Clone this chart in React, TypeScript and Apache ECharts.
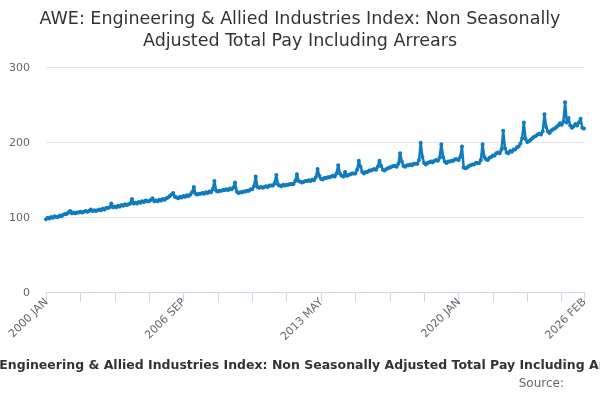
import React, { useEffect, useRef } from "react";
import * as echarts from "echarts";

const TITLE = "AWE: Engineering & Allied Industries Index: Non Seasonally\nAdjusted Total Pay Including Arrears";
const SERIES_NAME = "AWE: Engineering & Allied Industries Index: Non Seasonally Adjusted Total Pay Including Arrears";
const SOURCE = "Source:";

const MONTHS = ["JAN", "FEB", "MAR", "APR", "MAY", "JUN", "JUL", "AUG", "SEP", "OCT", "NOV", "DEC"];
const FIRST_YEAR = 2000;

const v2000 = [97, 99, 98, 100, 99, 101, 100, 100, 102, 101, 103, 104];
const v2001 = [104, 106, 108, 105, 106, 105, 106, 106, 107, 106, 107, 108];
const v2002 = [107, 108, 110, 108, 109, 108, 109, 110, 109, 111, 110, 112];
const v2003 = [112, 113, 118, 113, 114, 113, 115, 114, 116, 115, 117, 116];
const v2004 = [117, 118, 124, 118, 119, 118, 120, 119, 121, 120, 122, 121];
const v2005 = [121, 123, 125, 121, 122, 121, 123, 122, 124, 123, 125, 126];
const v2006 = [128, 130, 132, 127, 126, 125, 127, 126, 128, 127, 129, 128];
const v2007 = [130, 133, 140, 131, 130, 131, 131, 132, 131, 133, 132, 134];
const v2008 = [133, 137, 148, 135, 134, 135, 135, 136, 136, 137, 136, 138];
const v2009 = [137, 139, 146, 134, 132, 133, 133, 134, 134, 135, 135, 137];
const v2010 = [137, 141, 154, 140, 139, 140, 139, 140, 141, 140, 142, 142];
const v2011 = [142, 145, 156, 143, 142, 141, 143, 142, 143, 143, 144, 144];
const v2012 = [144, 148, 157, 148, 147, 146, 147, 148, 148, 149, 148, 150];
const v2013 = [149, 153, 164, 155, 151, 150, 152, 152, 153, 153, 154, 155];
const v2014 = [154, 158, 169, 158, 155, 154, 160, 155, 156, 157, 158, 158];
const v2015 = [158, 163, 175, 167, 160, 158, 160, 160, 162, 162, 163, 164];
const v2016 = [163, 167, 175, 168, 163, 162, 164, 165, 166, 167, 168, 168];
const v2017 = [167, 171, 185, 174, 168, 167, 169, 169, 170, 169, 171, 171];
const v2018 = [171, 176, 199, 180, 172, 170, 172, 173, 174, 173, 175, 176];
const v2019 = [175, 179, 197, 180, 174, 172, 174, 174, 175, 175, 177, 177];
const v2020 = [176, 180, 194, 166, 165, 166, 168, 169, 170, 170, 172, 172];
const v2021 = [172, 176, 197, 180, 177, 176, 179, 180, 182, 182, 185, 186];
const v2022 = [185, 190, 215, 192, 186, 185, 188, 187, 190, 190, 193, 194];
const v2023 = [198, 205, 226, 204, 200, 201, 203, 205, 207, 208, 210, 211];
const v2024 = [210, 214, 237, 220, 214, 212, 215, 217, 218, 220, 222, 225];
const v2025 = [223, 227, 253, 226, 232, 222, 219, 221, 224, 222, 226, 231];
const v2026 = [219, 218];

const YEARS_VALUES = [
  v2000, v2001, v2002, v2003, v2004, v2005, v2006, v2007, v2008, v2009,
  v2010, v2011, v2012, v2013, v2014, v2015, v2016, v2017, v2018, v2019,
  v2020, v2021, v2022, v2023, v2024, v2025, v2026,
];

const Y_TICKS = [0, 100, 200, 300];

export default function App() {
  const ref = useRef<HTMLDivElement>(null);

  useEffect(() => {
    if (!ref.current) return;
    const chart = echarts.init(ref.current, undefined, { renderer: "svg" });

    const categories: string[] = [];
    const values: number[] = [];
    YEARS_VALUES.forEach((arr, yi) => {
      arr.forEach((v, mi) => {
        categories.push(`${FIRST_YEAR + yi} ${MONTHS[mi]}`);
        values.push(v);
      });
    });
    const last = categories.length - 1;

    chart.setOption({
      animation: false,
      textStyle: { fontFamily: "DejaVu Sans" },
      title: {
        text: TITLE,
        left: "center",
        top: 2,
        textStyle: { fontSize: 17.5, fontWeight: "normal", color: "#333333", lineHeight: 22, fontFamily: "DejaVu Sans" },
      },
      grid: { left: 46, right: 16, top: 67, bottom: 108, containLabel: false },
      xAxis: {
        type: "category",
        data: categories,
        boundaryGap: false,
        axisLine: { lineStyle: { color: "#ccd6eb", width: 1 } },
        axisTick: {
          length: 10,
          lineStyle: { color: "#ccd6eb" },
          interval: (idx: number) => idx % 20 === 0 || idx === last,
        },
        axisLabel: {
          rotate: 45,
          color: "#666666",
          fontSize: 11,
          margin: 8,
          interval: (idx: number) => idx % 80 === 0 || idx === last,
        },
        splitLine: { show: false },
      },
      yAxis: {
        type: "value",
        min: Y_TICKS[0],
        max: Y_TICKS[Y_TICKS.length - 1],
        interval: 100,
        axisLine: { show: false },
        axisTick: { show: false },
        axisLabel: { color: "#666666", fontSize: 11, margin: 16 },
        splitLine: { lineStyle: { color: "#e6e6e6" } },
      },
      series: [
        {
          type: "line",
          name: SERIES_NAME,
          data: values,
          symbol: "circle",
          symbolSize: 4,
          showSymbol: true,
          showAllSymbol: true,
          itemStyle: { color: "#0f7cc0" },
          lineStyle: { color: "#0f7cc0", width: 2.5 },
        },
      ],
      graphic: [
        {
          type: "text",
          left: "center",
          top: 358,
          style: {
            text: SERIES_NAME,
            fill: "#333333",
            font: "bold 12.5px 'DejaVu Sans'",
            textAlign: "center",
          },
        },
        {
          type: "text",
          right: 36,
          top: 377,
          style: {
            text: SOURCE,
            fill: "#666666",
            font: "12px 'DejaVu Sans'",
          },
        },
      ],
    });

    return () => chart.dispose();
  }, []);

  return (
    <div
      ref={ref}
      style={{ position: "fixed", left: 0, top: 0, width: 600, height: 400 }}
    />
  );
}
